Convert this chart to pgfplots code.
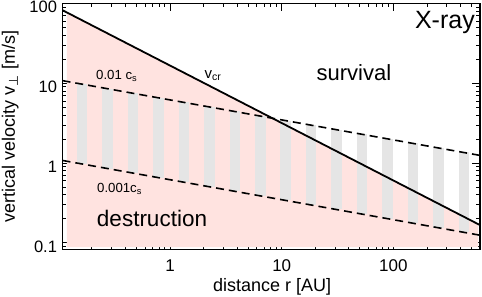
\documentclass[border=0pt]{standalone}
\usepackage{fontspec}
\setmainfont{Liberation Sans}
\newfontfamily\djv{DejaVu Sans}
\usepackage{pgfplots}
\pgfplotsset{compat=1.18}
\definecolor{pinkfill}{RGB}{255,227,224}
\definecolor{bargray}{RGB}{229,229,229}
\begin{document}
\begin{tikzpicture}
\useasboundingbox (0,0) rectangle (482pt,297pt);
\begin{axis}[
  at={(62.5pt,47.5pt)}, anchor=south west,
  scale only axis, width=417.5pt, height=246pt,
  xmode=log, ymode=log,
  xmin=0.109, xmax=596, ymin=0.0828, ymax=100,
  xtick={1,10,100}, xticklabels={1,10,100},
  ytick={0.1,1,10,100}, yticklabels={0.1,1,10,100},
  minor xtick={0.2,0.3,0.4,0.5,0.6,0.7,0.8,0.9,2,3,4,5,6,7,8,9,20,30,40,50,60,70,80,90,200,300,400,500},
  minor ytick={0.09,0.2,0.3,0.4,0.5,0.6,0.7,0.8,0.9,2,3,4,5,6,7,8,9,20,30,40,50,60,70,80,90},
  tick align=inside,
  major tick length=8pt, minor tick length=4pt,
  every tick/.style={black, line width=1pt},
  axis line style={line width=1.5pt},
  ticklabel style={font=\fontsize{17}{20}\selectfont},
  xticklabel style={yshift=-7pt},
  yticklabel style={xshift=-2pt, yshift=-3.5pt, font=\fontsize{16.5}{20}\selectfont},
  xlabel={distance r [AU]},
  ylabel={vertical velocity v\textsubscript{\djv ⊥} [m/s]},
  label style={font=\fontsize{18}{21}\selectfont},
  xlabel style={at={(axis description cs:0.502,-0.169)}, anchor=base},
  ylabel style={at={(axis description cs:-0.1138,0.5)}, anchor=base},
]
% destruction region (below v_cr)
\addplot[fill=pinkfill, draw=none] coordinates {(0.119,0.0887) (0.119,77.4) (572,0.172) (572,0.0887)} -- cycle;
% gray bars between 0.001 c_s and 0.01 c_s
\addplot[bargray, line width=10.5pt] coordinates {(0.1629,0.977) (0.1629,9.77)};
\addplot[bargray, line width=10.5pt] coordinates {(0.2754,0.856) (0.2754,8.56)};
\addplot[bargray, line width=10.5pt] coordinates {(0.4656,0.751) (0.4656,7.51)};
\addplot[bargray, line width=10.5pt] coordinates {(0.787,0.659) (0.787,6.59)};
\addplot[bargray, line width=10.5pt] coordinates {(1.330,0.578) (1.330,5.78)};
\addplot[bargray, line width=10.5pt] coordinates {(2.249,0.507) (2.249,5.07)};
\addplot[bargray, line width=10.5pt] coordinates {(3.802,0.444) (3.802,4.44)};
\addplot[bargray, line width=10.5pt] coordinates {(6.427,0.390) (6.427,3.90)};
\addplot[bargray, line width=10.5pt] coordinates {(10.86,0.342) (10.86,3.42)};
\addplot[bargray, line width=10.5pt] coordinates {(18.37,0.300) (18.37,3.00)};
\addplot[bargray, line width=10.5pt] coordinates {(31.05,0.263) (31.05,2.63)};
\addplot[bargray, line width=10.5pt] coordinates {(52.48,0.231) (52.48,2.31)};
\addplot[bargray, line width=10.5pt] coordinates {(88.72,0.202) (88.72,2.02)};
\addplot[bargray, line width=10.5pt] coordinates {(150.0,0.177) (150.0,1.77)};
\addplot[bargray, line width=10.5pt] coordinates {(253.5,0.1555) (253.5,1.555)};
\addplot[bargray, line width=10.5pt] coordinates {(428.5,0.1364) (428.5,1.364)};
% 0.01 c_s and 0.001 c_s
\addplot[black, line width=1.6pt, dash pattern=on 8pt off 5pt] coordinates {(0.109,10.8) (596,1.25)};
\addplot[black, line width=1.6pt, dash pattern=on 8pt off 5pt] coordinates {(0.109,1.08) (596,0.125)};
% v_cr
\addplot[black, line width=1.8pt] coordinates {(0.109,82.4) (596,0.1675)};
% labels
\node[anchor=base east, inner sep=0pt, font=\fontsize{25}{28}\selectfont] at (axis description cs:0.988,0.898) {X-ray};
\node[anchor=base, inner sep=0pt, font=\fontsize{22}{26}\selectfont] at (axis description cs:0.698,0.689) {survival};
\node[anchor=base, inner sep=0pt, font=\fontsize{22.5}{26}\selectfont] at (axis description cs:0.2144,0.0955) {destruction};
\node[anchor=base west, inner sep=0pt, font=\fontsize{15}{18}\selectfont] at (axis description cs:0.3397,0.696) {v\textsubscript{cr}};
\node[anchor=base west, inner sep=0pt, font=\fontsize{13.2}{16}\selectfont] at (axis description cs:0.0802,0.690) {0.01 c\textsubscript{s}};
\node[anchor=base west, inner sep=0pt, font=\fontsize{13.2}{16}\selectfont] at (axis description cs:0.0826,0.2297) {0.001c\textsubscript{s}};
\end{axis}
\end{tikzpicture}
\end{document}
